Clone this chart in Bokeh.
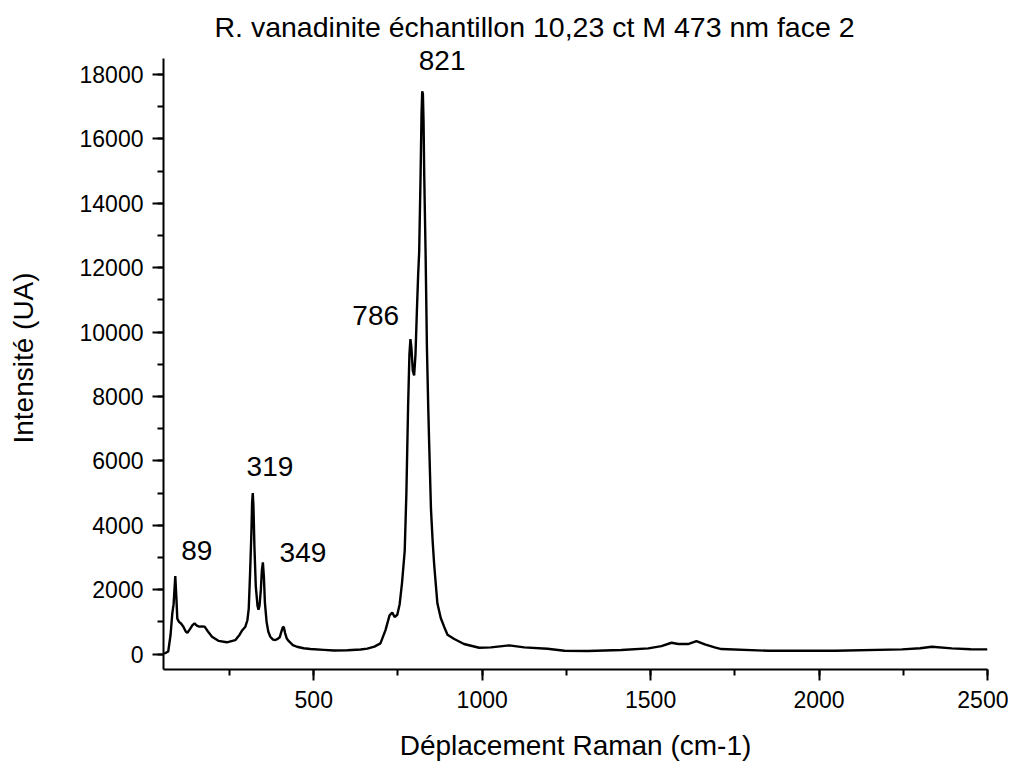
from bokeh.plotting import figure
from bokeh.models import SingleIntervalTicker, Range1d, ColumnDataSource, LabelSet
from bokeh.core.properties import value
from bokeh.embed import file_html
from bokeh.resources import INLINE

# Raman shift (cm-1)
shift = [54, 60, 68, 75, 80, 84, 89, 92, 95, 100, 106, 113, 120, 125, 133, 140, 146, 153,
         160, 168, 176, 186, 198, 217, 242, 267, 280, 288, 297, 303, 307, 311, 315, 317,
         319, 321, 324, 328, 333, 336, 339, 343, 346, 349, 352, 355, 360, 365, 371, 379,
         386, 393, 399, 404, 408, 411, 415, 420, 426, 438, 450, 470, 490, 530, 560, 600,
         639, 659, 680, 698, 713, 725, 733, 740, 748, 755, 762, 770, 775, 780, 784, 787,
         790, 794, 798, 802, 806, 810, 813, 817, 820, 822, 824, 826, 828, 832, 836, 840,
         843, 848, 853, 857, 862, 867, 877, 887, 897, 917, 946, 991, 1026, 1080, 1125,
         1194, 1244, 1313, 1413, 1493, 1532, 1562, 1582, 1611, 1636, 1661, 1690, 1710,
         1849, 2048, 2246, 2300, 2335, 2394, 2450, 2500]
# Intensity (UA)
intensity = [20, 30, 80, 600, 1250, 1550, 2420, 1800, 1100, 1000, 950, 850, 700, 660, 780,
             900, 950, 880, 850, 860, 850, 700, 540, 410, 365, 430, 600, 740, 850, 1050,
             1400, 2500, 3800, 4700, 5000, 4600, 3300, 2100, 1500, 1380, 1500, 2000, 2600,
             2850, 2400, 1600, 1000, 700, 537, 450, 435, 470, 520, 700, 830, 840, 650, 480,
             400, 280, 227, 180, 155, 130, 110, 120, 140, 170, 230, 330, 745, 1200, 1290,
             1150, 1220, 1550, 2200, 3200, 5000, 7650, 9300, 9780, 9500, 8800, 8650, 9300,
             10600, 11800, 12500, 14800, 16800, 17480, 17400, 16500, 14850, 12450, 9500,
             7600, 6400, 4500, 3500, 2850, 2200, 1575, 1118, 850, 600, 466, 311, 196, 208,
             270, 208, 165, 103, 93, 124, 177, 248, 351, 311, 311, 404, 301, 208, 155, 103,
             103, 146, 180, 227, 177, 150, 146]

peak_labels = ["89", "319", "349", "786", "821"]
label_x = [153, 370, 468, 684, 881]
label_y = [3230, 5840, 3140, 10500, 18450]

title_text = "R. vanadinite échantillon 10,23 ct M 473 nm face 2"
x_title = "Déplacement Raman (cm-1)"
y_title = "Intensité (UA)"

FONT = "Liberation Sans"

# y range extended above the axis end so the top peak label is not clipped
p = figure(width=1008, height=763, output_backend="svg", toolbar_location=None,
           x_range=Range1d(54, 2500), y_range=Range1d(-480, 18870),
           min_border_left=163, min_border_right=21, min_border_top=46,
           min_border_bottom=94, title=title_text)

p.title.text_font = FONT
p.title.text_font_size = "28.5px"
p.title.text_font_style = "normal"
p.title.align = "left"
p.title.offset = 51
p.title.standoff = 8
p.title.text_color = "black"

p.outline_line_color = None
p.xgrid.visible = False
p.ygrid.visible = False

p.line(shift, intensity, line_color="black", line_width=2.4)

src = ColumnDataSource(dict(x=label_x, y=label_y, t=peak_labels))
labels = LabelSet(x="x", y="y", text="t", source=src, text_font=value(FONT),
                  text_font_size=value("28px"), text_align="center",
                  text_baseline="middle", text_color="black")
p.add_layout(labels)

p.xaxis.ticker = SingleIntervalTicker(interval=500, num_minor_ticks=2)
p.yaxis.ticker = SingleIntervalTicker(interval=2000, num_minor_ticks=2)
p.yaxis.bounds = (-480, 18490)
p.xaxis.axis_label = x_title
p.yaxis.axis_label = y_title

for ax in (p.xaxis[0], p.yaxis[0]):
    ax.axis_line_width = 2
    ax.axis_line_color = "black"
    ax.major_tick_line_width = 2
    ax.minor_tick_line_width = 2
    ax.major_tick_line_color = "black"
    ax.minor_tick_line_color = "black"
    ax.major_tick_out = 11
    ax.major_tick_in = 0
    ax.minor_tick_out = 6
    ax.minor_tick_in = 0
    ax.major_label_text_font = FONT
    ax.major_label_text_font_size = "23px"
    ax.major_label_text_color = "black"
    ax.axis_label_text_font = FONT
    ax.axis_label_text_font_size = "28px"
    ax.axis_label_text_font_style = "normal"
    ax.axis_label_text_color = "black"

p.yaxis.major_label_standoff = 9
p.xaxis.major_label_standoff = 10
p.yaxis.axis_label_standoff = 38
p.xaxis.axis_label_standoff = 19

open("out.html", "w").write(file_html(p, INLINE))
